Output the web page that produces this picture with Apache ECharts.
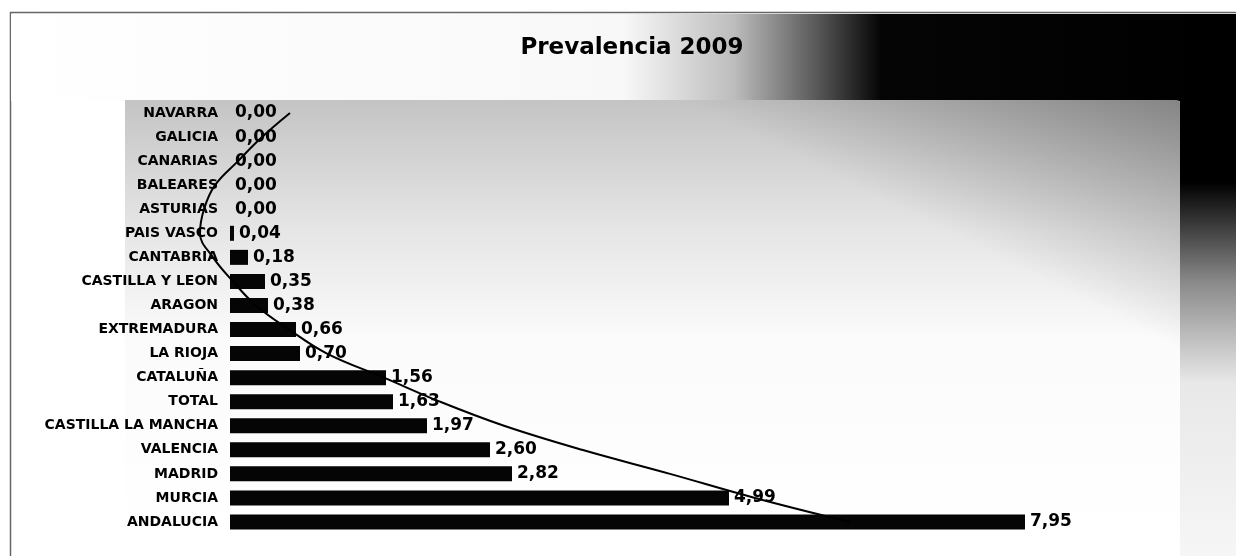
<!DOCTYPE html>
<html>
<head>
<meta charset="utf-8">
<title>Prevalencia 2009</title>
<script src="https://cdn.jsdelivr.net/npm/echarts@6/dist/echarts.min.js"></script>
<style>
  html, body { margin: 0; padding: 0; background: #fff; }
  #chart { width: 1236px; height: 556px; }
</style>
</head>
<body>
<div id="chart"></div>
<script>
// comunidades, de arriba a abajo
const regiones = ['NAVARRA', 'GALICIA', 'CANARIAS', 'BALEARES', 'ASTURIAS', 'PAIS VASCO',
  'CANTABRIA', 'CASTILLA Y LEON', 'ARAGON', 'EXTREMADURA', 'LA RIOJA', 'CATALUÑA',
  'TOTAL', 'CASTILLA LA MANCHA', 'VALENCIA', 'MADRID', 'MURCIA', 'ANDALUCIA']
const prevalencia = [0.00, 0.00, 0.00, 0.00, 0.00, 0.04, 0.18, 0.35, 0.38, 0.66, 0.70,
  1.56, 1.63, 1.97, 2.60, 2.82, 4.99, 7.95]
// linea de tendencia
const tendencia = [0.60, 0.32, 0.08, -0.15, -0.26, -0.30, -0.17, 0.03, 0.26, 0.59, 0.97,
  1.54, 2.10, 2.74, 3.52, 4.40, 5.25, 6.20]

const fmt = v => v.toFixed(2).replace('.', ',')

let chart = echarts.init(document.getElementById('chart'))
const option = {
  animation: false,
  title: {
    text: 'Prevalencia 2009',
    left: 627,
    top: 32,
    textAlign: 'center',
    textStyle: {
      fontFamily: 'DejaVu Sans',
      fontWeight: 'bold',
      fontSize: 23,
      color: '#000'
    }
  },
  graphic: [
    { // marco
      type: 'rect', z: -10,
      shape: { x: 10.5, y: 12.5, width: 1240, height: 560 },
      style: { fill: '#fff', stroke: '#666', lineWidth: 1.5 }
    },
    { // banda superior
      type: 'rect', z: -9,
      shape: { x: 11, y: 14, width: 1225, height: 87 },
      style: {
        fill: new echarts.graphic.LinearGradient(0, 0, 1, 0, [
          { offset: 0, color: '#ffffff' },
          { offset: 0.5, color: '#f8f8f8' },
          { offset: 0.59, color: '#bdbdbd' },
          { offset: 0.66, color: '#555555' },
          { offset: 0.71, color: '#050505' },
          { offset: 1, color: '#000000' }
        ])
      }
    },
    { // franja derecha
      type: 'rect', z: -9,
      shape: { x: 1180, y: 100, width: 56, height: 456 },
      style: {
        fill: new echarts.graphic.LinearGradient(0, 0, 0, 1, [
          { offset: 0, color: '#000000' },
          { offset: 0.18, color: '#000000' },
          { offset: 0.4, color: '#8a8a8a' },
          { offset: 0.62, color: '#e8e8e8' },
          { offset: 1, color: '#f6f6f6' }
        ])
      }
    },
    { // area de trazado
      type: 'rect', z: -8,
      shape: { x: 125, y: 100, width: 1055, height: 437, r: [0, 4, 0, 0] },
      style: {
        fill: new echarts.graphic.LinearGradient(0, 0, 0, 1, [
          { offset: 0, color: '#c4c4c4' },
          { offset: 0.3, color: '#e6e6e6' },
          { offset: 0.55, color: '#fbfbfb' },
          { offset: 1, color: '#ffffff' }
        ])
      }
    },
    {
      type: 'rect', z: -7,
      shape: { x: 125, y: 100, width: 1055, height: 437 },
      style: {
        fill: new echarts.graphic.LinearGradient(1180, 100, 1080, 300, [
          { offset: 0, color: 'rgba(0,0,0,0.32)' },
          { offset: 1, color: 'rgba(0,0,0,0)' }
        ], true)
      }
    }
  ],
  grid: {
    left: 230,
    width: 1000,
    top: 101,
    height: 433,
    containLabel: false,
    outerBoundsMode: 'none'
  },
  xAxis: {
    type: 'value',
    min: 0,
    max: 10,
    show: false,
    splitLine: { show: false }
  },
  yAxis: {
    type: 'category',
    inverse: true,
    data: regiones,
    axisLine: { show: false },
    axisTick: { show: false },
    axisLabel: {
      margin: 12,
      fontFamily: 'DejaVu Sans',
      fontWeight: 'bold',
      fontSize: 14,
      color: '#000'
    }
  },
  series: [
    {
      name: 'Prevalencia',
      type: 'bar',
      data: prevalencia,
      barWidth: 15,
      itemStyle: { color: '#050505' },
      label: {
        show: true,
        position: 'right',
        distance: 5,
        formatter: p => fmt(p.value),
        fontFamily: 'DejaVu Sans',
        fontWeight: 'bold',
        fontSize: 17,
        color: '#000'
      },
      z: 3
    },
    {
      name: 'Tendencia',
      type: 'line',
      data: tendencia,
      smooth: 0.4,
      clip: false,
      symbol: 'none',
      lineStyle: { color: '#000', width: 2 },
      z: 4
    }
  ]
}
chart.setOption(option)
</script>
</body>
</html>
